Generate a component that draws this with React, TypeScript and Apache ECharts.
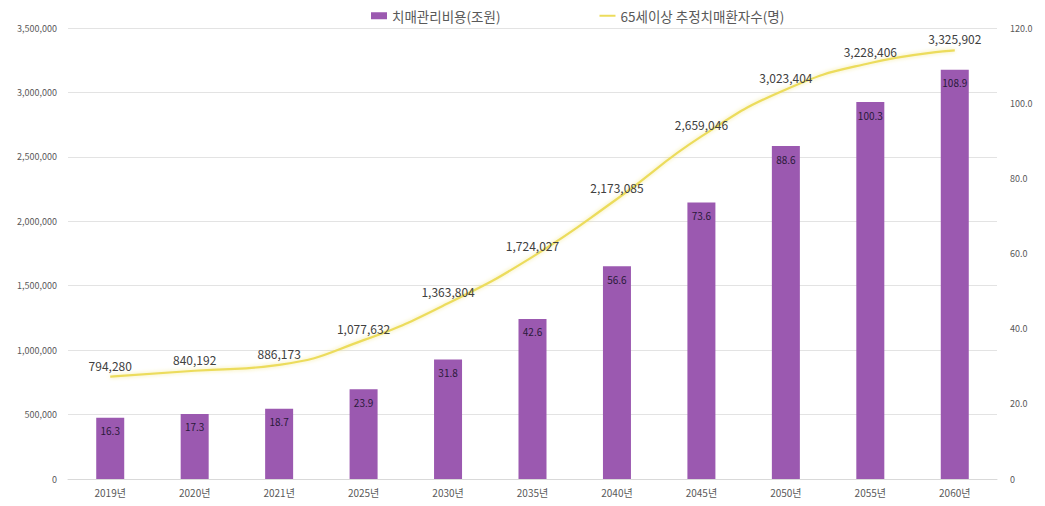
import React, { useEffect, useRef } from "react";
import * as echarts from "echarts";

const categories = ["2019년", "2020년", "2021년", "2025년", "2030년", "2035년", "2040년", "2045년", "2050년", "2055년", "2060년"];
const costValues = [16.3, 17.3, 18.7, 23.9, 31.8, 42.6, 56.6, 73.6, 88.6, 100.3, 108.9];
const patientValues = [794280, 840192, 886173, 1077632, 1363804, 1724027, 2173085, 2659046, 3023404, 3228406, 3325902];
const barName = "치매관리비용(조원)";
const lineName = "65세이상 추정치매환자수(명)";

const FONT = "'Noto Sans CJK KR', 'Noto Sans', sans-serif";

export default function App() {
  const ref = useRef<HTMLDivElement>(null);
  useEffect(() => {
    if (!ref.current) return;
    const chart = echarts.init(ref.current, undefined, { renderer: "svg" });
    chart.setOption({
      animation: false,
      textStyle: { fontFamily: FONT },
      legend: {
        top: 4,
        left: 366,
        itemGap: 98,
        itemWidth: 16,
        itemHeight: 7,
        textStyle: { fontSize: 13.5, color: "#595959", fontFamily: FONT },
        data: [
          { name: barName, icon: "rect" },
          { name: lineName, itemStyle: { opacity: 0 } },
        ],
      },
      grid: { left: 68, right: 48, top: 28, bottom: 27, containLabel: false },
      xAxis: {
        type: "category",
        data: categories,
        axisLine: { lineStyle: { color: "#d9d9d9" } },
        axisTick: { show: false },
        axisLabel: { fontSize: 10, color: "#595959", margin: 8 },
      },
      yAxis: [
        {
          type: "value",
          min: 0,
          max: 3500000,
          interval: 500000,
          axisLine: { show: false },
          axisTick: { show: false },
          splitLine: { lineStyle: { color: "#e3e3e3" } },
          axisLabel: {
            fontSize: 9,
            color: "#595959",
            margin: 11,
            formatter: (v: number) => v.toLocaleString("en-US"),
          },
        },
        {
          type: "value",
          min: 0,
          max: 120,
          interval: 20,
          axisLine: { show: false },
          axisTick: { show: false },
          splitLine: { show: false },
          axisLabel: {
            fontSize: 9,
            color: "#595959",
            margin: 13,
            formatter: (v: number) => (v === 0 ? "0" : v.toFixed(1)),
          },
        },
      ],
      series: [
        {
          name: barName,
          type: "bar",
          yAxisIndex: 1,
          data: costValues,
          barWidth: 28,
          itemStyle: { color: "#9b59b0" },
          label: {
            show: true,
            position: "insideTop",
            distance: 8,
            fontSize: 10,
            color: "#2a1a3a",
            formatter: (p: any) => p.value.toFixed(1),
          },
          z: 2,
        },
        {
          name: lineName,
          type: "line",
          yAxisIndex: 0,
          data: patientValues,
          smooth: true,
          symbol: "circle",
          symbolSize: 1,
          showSymbol: true,
          lineStyle: { color: "#ecdc5c", width: 2.2, shadowColor: "rgba(240,225,110,0.7)", shadowBlur: 4 },
          itemStyle: { color: "#ecdc5c", opacity: 0 },
          label: {
            show: true,
            position: "top",
            distance: 5,
            fontSize: 12,
            color: "#404040",
            opacity: 1,
            formatter: (p: any) => p.value.toLocaleString("en-US"),
          },
          z: 3,
        },
      ],
    });
    return () => chart.dispose();
  }, []);
  return <div ref={ref} style={{ width: 1045, height: 506, marginTop: -8, marginLeft: -8 }} />;
}
